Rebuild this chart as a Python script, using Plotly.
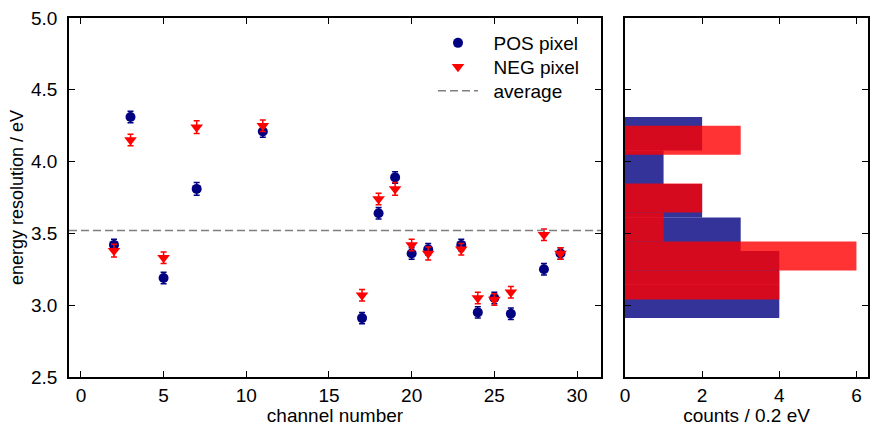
import numpy as np
import plotly.graph_objects as go

# ---------------- data ----------------
CHANNELS = [2, 3, 5, 7, 11, 17, 18, 19, 20, 21, 23, 24, 25, 26, 28, 29]
POS = [3.42, 4.31, 3.19, 3.81, 4.21, 2.91, 3.64, 3.89, 3.36, 3.39, 3.42, 2.95, 3.05, 2.94, 3.25, 3.36]
NEG = [3.38, 4.15, 3.33, 4.24, 4.25, 3.07, 3.74, 3.81, 3.42, 3.36, 3.39, 3.05, 3.04, 3.09, 3.49, 3.36]
POS_ERR = [0.04, 0.04, 0.04, 0.045, 0.04, 0.04, 0.04, 0.04, 0.04, 0.04, 0.04, 0.04, 0.04, 0.04, 0.04, 0.04]
NEG_ERR = [0.045, 0.04, 0.04, 0.045, 0.04, 0.04, 0.04, 0.045, 0.04, 0.045, 0.04, 0.04, 0.04, 0.04, 0.04, 0.04]
AVERAGE = 3.52
N_BINS = 6

X_TICKS = [0, 5, 10, 15, 20, 25, 30]
Y_TICKS = [2.5, 3.0, 3.5, 4.0, 4.5, 5.0]
H_TICKS = [0, 2, 4, 6]

NAVY = "#000080"
RED = "#ff0000"
NAVY_A = "rgba(0,0,128,0.8)"
RED_A = "rgba(255,0,0,0.8)"
FONT = "Liberation Sans, Arial, sans-serif"
PAD = "\u00a0\u00a0"

W, H = 872, 426

fig = go.Figure()

fig.add_trace(go.Scatter(
    x=CHANNELS, y=POS, mode="markers", name=PAD + "POS pixel", legend="legend",
    marker=dict(symbol="circle", size=10, color=NAVY),
    error_y=dict(type="data", array=POS_ERR, color=NAVY, thickness=1.5, width=3),
    xaxis="x", yaxis="y"))
fig.add_trace(go.Scatter(
    x=CHANNELS, y=NEG, mode="markers", name=PAD + "NEG pixel", legend="legend2",
    marker=dict(symbol="triangle-down", size=11, color=RED),
    error_y=dict(type="data", array=NEG_ERR, color=RED, thickness=1.5, width=3),
    xaxis="x", yaxis="y"))

fig.add_shape(type="line", xref="x domain", yref="y", x0=0, x1=1, y0=AVERAGE, y1=AVERAGE,
              line=dict(color="#7f7f7f", width=1.5, dash="8px,4px"),
              showlegend=True, name=PAD + "average", legend="legend3")

# histograms
cp, ep = np.histogram(POS, bins=N_BINS)
cn, en = np.histogram(NEG, bins=N_BINS)
fig.add_trace(go.Bar(
    y=(ep[:-1] + ep[1:]) / 2, x=cp, width=np.diff(ep), orientation="h",
    marker=dict(color=NAVY_A, line=dict(width=0)), showlegend=False,
    xaxis="x2", yaxis="y2"))
fig.add_trace(go.Bar(
    y=(en[:-1] + en[1:]) / 2, x=cn, width=np.diff(en), orientation="h",
    marker=dict(color=RED_A, line=dict(width=0)), showlegend=False,
    xaxis="x2", yaxis="y2"))

ax_common = dict(showline=True, linecolor="black", linewidth=1.5, mirror="ticks",
                 ticks="inside", ticklen=6, tickwidth=1.2, tickcolor="black",
                 showgrid=False, zeroline=False,
                 tickfont=dict(family=FONT, size=19, color="black"))

y_dom = [(H - 377) / H, (H - 18) / H]


def leg(yc):
    return dict(x=433 / W, y=1 - yc / H, xanchor="left", yanchor="middle",
                bgcolor="rgba(0,0,0,0)", borderwidth=0, itemwidth=40,
                font=dict(family=FONT, size=19, color="black"))


fig.update_layout(
    width=W, height=H,
    margin=dict(l=0, r=0, t=0, b=0),
    paper_bgcolor="white", plot_bgcolor="white",
    font=dict(family=FONT, size=19, color="black"),
    barmode="overlay",
    xaxis=dict(domain=[69 / W, 601 / W], range=[-0.72, 31.45], tickvals=X_TICKS,
               title=dict(text="channel number", standoff=2, font=dict(size=19)),
               anchor="y", automargin=False, **ax_common),
    yaxis=dict(domain=y_dom, range=[2.5, 5.0], tickvals=Y_TICKS, tickformat=".1f",
               title=dict(text="energy resolution / eV", standoff=3, font=dict(size=18)),
               anchor="x", automargin=False, ticklabelstandoff=6, **ax_common),
    xaxis2=dict(domain=[625 / W, 868 / W], range=[0, 6.3], tickvals=H_TICKS,
                title=dict(text="counts / 0.2 eV", standoff=2, font=dict(size=19)),
                anchor="y2", automargin=False, **ax_common),
    yaxis2=dict(domain=y_dom, range=[2.5, 5.0], tickvals=Y_TICKS, matches="y",
                showticklabels=False, anchor="x2", automargin=False, **ax_common),
    legend=leg(43),
    legend2=leg(67),
    legend3=leg(91),
)

fig.write_html("out.html")
